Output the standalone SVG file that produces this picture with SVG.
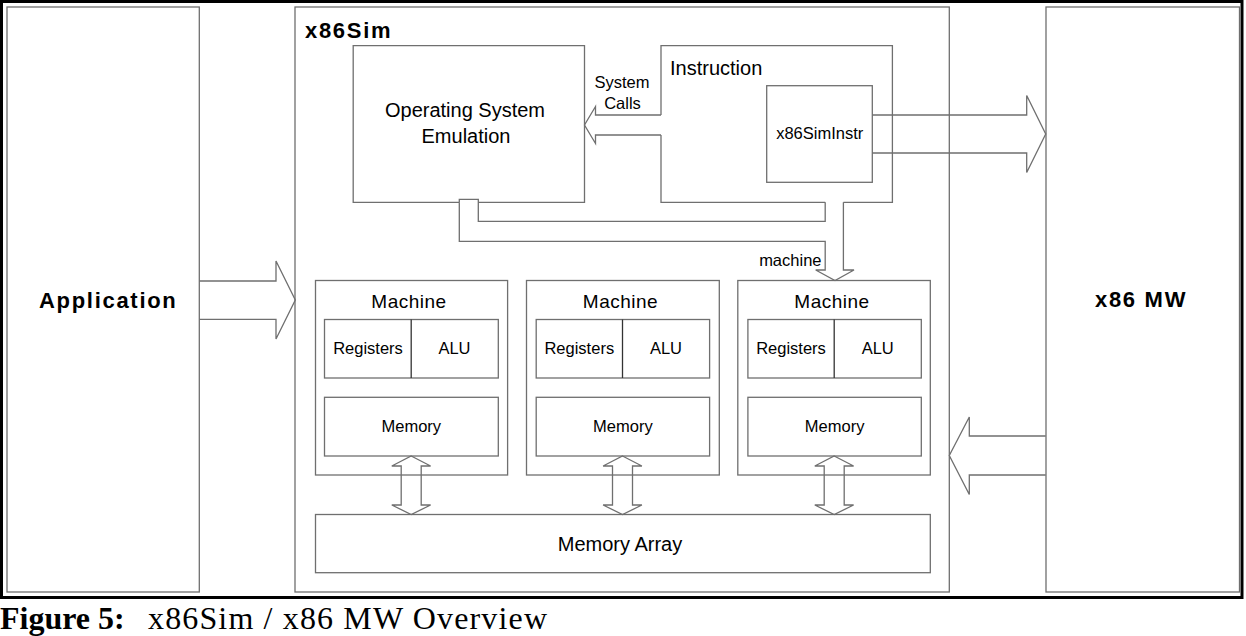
<svg xmlns="http://www.w3.org/2000/svg" width="1246" height="636" viewBox="0 0 1246 636">
<style>
  .box { fill: none; stroke: #6f6f6f; stroke-width: 1.3; }
  .ln { fill: none; stroke: #6f6f6f; stroke-width: 1.3; }
  .div { fill: none; stroke: #333333; stroke-width: 1.3; }
  .arr { fill: none; stroke: #6f6f6f; stroke-width: 1.3; stroke-linejoin: miter; }
  .t { font-family: "Liberation Sans", Arial, Helvetica, sans-serif; fill: #000; }
  .title { font-size: 22px; font-weight: bold; letter-spacing: 1.7px; }
  .big { font-size: 20px; }
  .mach { font-size: 19px; letter-spacing: 0.5px; }
  .small { font-size: 16.5px; }
  .cap { font-family: "Liberation Serif", "Times New Roman", serif; font-size: 32px; fill: #000; }
</style>
<rect x="0" y="0" width="1246" height="636" fill="#ffffff"/>
<rect x="1.5" y="1.5" width="1240.5" height="596" fill="none" stroke="#000" stroke-width="3"/>

<g id="application">
  <rect class="box" x="7" y="7" width="192.3" height="585"/>
  <text class="t title" x="39" y="308">Application</text>
</g>

<g id="x86mw">
  <rect class="box" x="1046" y="7" width="193.5" height="585"/>
  <text class="t title" x="1095" y="307">x86 MW</text>
</g>

<g id="x86sim">
  <rect class="box" x="295" y="7" width="654.3" height="585"/>
  <text class="t title" x="305" y="38">x86Sim</text>
</g>

<g id="os-emulation">
  <path class="ln" d="M459.3,202.3 H353.2 V45.7 H584.5 V202.3 H478.3"/>
  <text class="t big" x="465" y="117" text-anchor="middle">Operating System</text>
  <text class="t big" x="466" y="143" text-anchor="middle">Emulation</text>
</g>

<g id="instruction">
  <path class="ln" d="M661,115 V45.7 H892.4 V202.3 H843.4 M825.2,202.3 H661 V135"/>
  <text class="t big" x="670" y="75">Instruction</text>
</g>

<g id="x86siminstr">
  <rect class="box" x="766.7" y="85.7" width="105.6" height="96.6"/>
  <text class="t small" x="819.7" y="138.5" text-anchor="middle">x86SimInstr</text>
</g>

<g id="machine1">
  <rect class="box" x="315.5" y="280.5" width="192.1" height="194.5"/>
  <text class="t mach" x="409" y="308.3" text-anchor="middle">Machine</text>
  <rect class="box" x="324.5" y="319.5" width="173.8" height="58.5"/>
  <line class="div" x1="411.2" y1="319.5" x2="411.2" y2="378"/>
  <text class="t small" x="368" y="353.5" text-anchor="middle">Registers</text>
  <text class="t small" x="454.5" y="353.5" text-anchor="middle">ALU</text>
  <rect class="box" x="324.5" y="397.3" width="173.8" height="58.7"/>
  <text class="t small" x="411.3" y="432.3" text-anchor="middle">Memory</text>
</g>

<g id="machine2">
  <rect class="box" x="526.5" y="280.5" width="192.8" height="194.5"/>
  <text class="t mach" x="620.5" y="308.3" text-anchor="middle">Machine</text>
  <rect class="box" x="536.2" y="319.5" width="173.4" height="58.5"/>
  <line class="div" x1="622.5" y1="319.5" x2="622.5" y2="378"/>
  <text class="t small" x="579.3" y="353.5" text-anchor="middle">Registers</text>
  <text class="t small" x="666" y="353.5" text-anchor="middle">ALU</text>
  <rect class="box" x="536.2" y="397.3" width="173.4" height="58.7"/>
  <text class="t small" x="622.9" y="432.3" text-anchor="middle">Memory</text>
</g>

<g id="machine3">
  <rect class="box" x="737.8" y="280.5" width="192.5" height="194.5"/>
  <text class="t mach" x="832" y="308.3" text-anchor="middle">Machine</text>
  <rect class="box" x="747.9" y="319.5" width="173.4" height="58.5"/>
  <line class="div" x1="834.2" y1="319.5" x2="834.2" y2="378"/>
  <text class="t small" x="791" y="353.5" text-anchor="middle">Registers</text>
  <text class="t small" x="877.7" y="353.5" text-anchor="middle">ALU</text>
  <rect class="box" x="747.9" y="397.3" width="173.4" height="58.7"/>
  <text class="t small" x="834.6" y="432.3" text-anchor="middle">Memory</text>
</g>

<g id="memory-array">
  <rect class="box" x="315.5" y="514.5" width="614.8" height="58.2"/>
  <text class="t big" x="620" y="551" text-anchor="middle">Memory Array</text>
</g>

<g id="connectors">
  <!-- Application -> x86Sim -->
  <path class="arr" d="M199.3,281 H276 V261 L295.3,300 L276,339 V319.3 H199.3"/>
  <!-- x86SimInstr -> x86 MW -->
  <path class="arr" d="M872.3,115 H1026.7 V95.5 L1045.7,134 L1026.7,172.5 V153 H872.3"/>
  <!-- x86 MW -> x86Sim -->
  <path class="arr" d="M1045.7,436 H969.3 V417 L949.3,455.5 L969.3,494.5 V475 H1045.7"/>
  <!-- System Calls -->
  <path class="arr" d="M661,115 H595.5 V106.5 L584.5,125 L595.5,143.5 V135 H661"/>
  <text class="t small" x="622" y="88" text-anchor="middle">System</text>
  <text class="t small" x="622.5" y="108.5" text-anchor="middle">Calls</text>
  <!-- machine pipe from OS Emulation and Instruction -->
  <path class="arr" d="M459.3,202.3 V199.3 H478.3 V221.3 H825.2 V202.3"/>
  <path class="arr" d="M459.3,202.3 V241.3 H825.2 V270 H815.7 L835,280.5 L854,270 H843.4 V202.3"/>
  <text class="t small" x="821.5" y="266" text-anchor="end">machine</text>
  <!-- Memory <-> Memory Array -->
  <path class="arr" d="M411.2,456 L430.6,466 H421.2 V505 H430.6 L411.2,514.5 L391.8,505 H401.2 V466 H391.8 Z"/>
  <path class="arr" d="M622.5,456 L641.9,466 H632.5 V505 H641.9 L622.5,514.5 L603.1,505 H612.5 V466 H603.1 Z"/>
  <path class="arr" d="M834.2,456 L853.6,466 H844.2 V505 H853.6 L834.2,514.5 L814.8,505 H824.2 V466 H814.8 Z"/>
</g>

<g id="caption">
  <text class="cap" x="0" y="629" font-weight="bold">Figure 5:</text>
  <text class="cap" x="148" y="629" textLength="399" lengthAdjust="spacing">x86Sim / x86 MW Overview</text>
</g>
</svg>
